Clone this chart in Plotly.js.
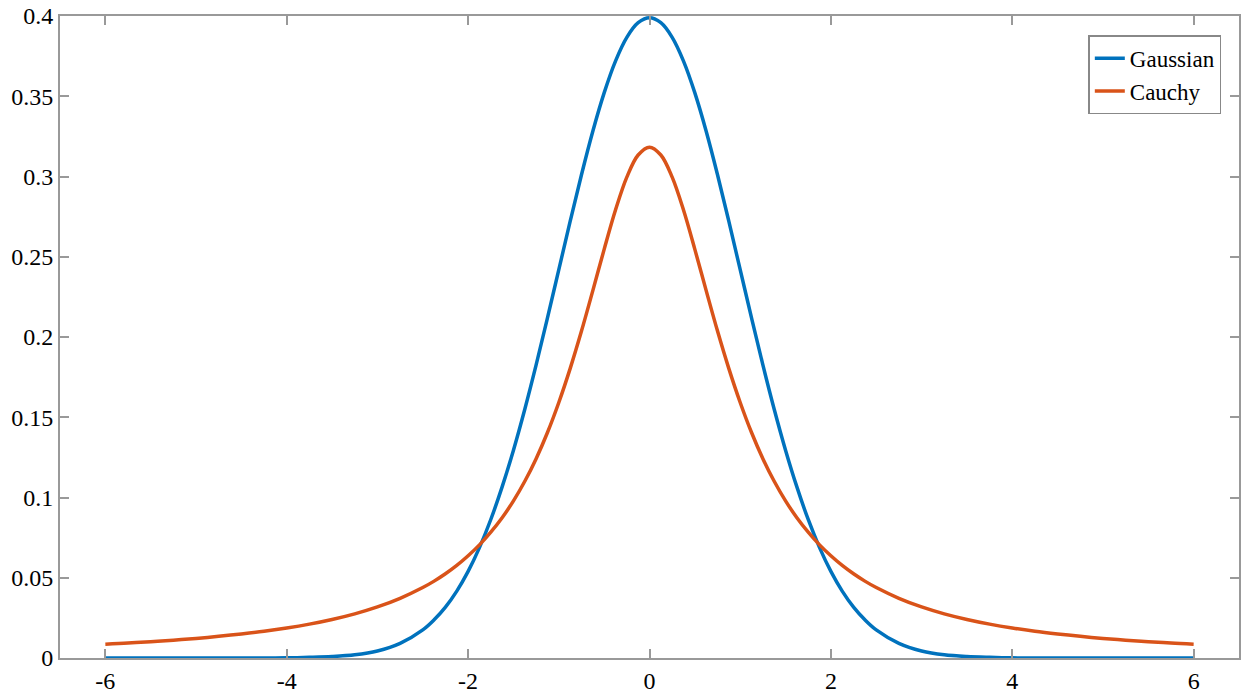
<!DOCTYPE html>
<html><head><meta charset="utf-8">
<script src="https://cdn.plot.ly/plotly-3.0.1.min.js"></script>
<style>body{margin:0;background:#fff}#chart{width:1250px;height:696px}</style>
</head><body><div id="chart"></div>
<script>
// x positions (shared by both series)
const xVals = [-6,-5.75,-5.5,-5.25,-5,-4.75,-4.5,-4.25,-4,-3.75,-3.5,-3.25,-3,-2.75,-2.5,-2.375,-2.25,-2.125,
               -2,-1.875,-1.75,-1.625,-1.5,-1.375,-1.25,-1.125,-1,-0.875,-0.75,-0.625,-0.5,-0.375,-0.25,-0.125,0,
               0.125,0.25,0.375,0.5,0.625,0.75,0.875,1,1.125,1.25,1.375,1.5,1.625,1.75,1.875,2,
               2.125,2.25,2.375,2.5,2.75,3,3.25,3.5,3.75,4,4.25,4.5,4.75,5,5.25,5.5,5.75,6];
const gaussian = [0,0,0,0,0,0,0,0,0.0001,0.0004,0.0009,0.002,0.0044,0.0091,0.0175,0.0238,0.0317,0.0417,
                  0.054,0.0688,0.0863,0.1066,0.1295,0.155,0.1826,0.2119,0.242,0.272,0.3011,0.3282,0.3521,0.3719,0.3867,0.3958,0.3989,
                  0.3958,0.3867,0.3719,0.3521,0.3282,0.3011,0.272,0.242,0.2119,0.1826,0.155,0.1295,0.1066,0.0863,0.0688,0.054,
                  0.0417,0.0317,0.0238,0.0175,0.0091,0.0044,0.002,0.0009,0.0004,0.0001,0,0,0,0,0,0,0,0];
const cauchy = [0.0086,0.0093,0.0102,0.0111,0.0122,0.0135,0.015,0.0167,0.0187,0.0211,0.024,0.0275,0.0318,0.0372,0.0439,0.0479,0.0525,0.0577,
                0.0637,0.0705,0.0784,0.0874,0.0979,0.1101,0.1242,0.1405,0.1592,0.1803,0.2037,0.2289,0.2546,0.2791,0.2996,0.3134,0.3183,
                0.3134,0.2996,0.2791,0.2546,0.2289,0.2037,0.1803,0.1592,0.1405,0.1242,0.1101,0.0979,0.0874,0.0784,0.0705,0.0637,
                0.0577,0.0525,0.0479,0.0439,0.0372,0.0318,0.0275,0.024,0.0211,0.0187,0.0167,0.015,0.0135,0.0122,0.0111,0.0102,0.0093,0.0086];
const seriesNames = ['Gaussian','Cauchy'];
const xTicks = [-6,-4,-2,0,2,4,6];
const yTicks = [0,0.05,0.1,0.15,0.2,0.25,0.3,0.35,0.4];
const yTickText = ['0','0.05','0.1','0.15','0.2','0.25','0.3','0.35','0.4'];

const serif = 'Liberation Serif, serif';
const data = [
  {x:xVals, y:gaussian, name:seriesNames[0], mode:'lines', line:{color:'#0072BD', width:3.5, shape:'spline', smoothing:1}},
  {x:xVals, y:cauchy, name:seriesNames[1], mode:'lines', line:{color:'#D95319', width:3.5, shape:'spline', smoothing:1}}
];
function axisCommon(){
  return {
    showgrid:false, zeroline:false, showline:true, linecolor:'#999', linewidth:2,
    mirror:'ticks', ticks:'inside', ticklen:9, tickwidth:2, tickcolor:'#999',
    tickfont:{family:serif, size:24, color:'#000'}
  };
}
const layout = {
  width:1250, height:696,
  margin:{l:60, r:11, t:16, b:38},
  paper_bgcolor:'#fff', plot_bgcolor:'#fff',
  font:{family:serif},
  xaxis:Object.assign(axisCommon(), {range:[-6.5,6.5], tickvals:xTicks, ticktext:xTicks.map(String)}),
  yaxis:Object.assign(axisCommon(), {range:[0,0.4], tickvals:yTicks, ticktext:yTickText}),
  showlegend:true,
  legend:{x:0.985, y:0.97, xanchor:'right', yanchor:'top', bgcolor:'#fff', bordercolor:'#888', borderwidth:1.5,
          font:{family:serif, size:23, color:'#000'}, tracegroupgap:0, itemwidth:30}
};
Plotly.newPlot('chart', data, layout, {displayModeBar:false, staticPlot:true});
</script></body></html>
